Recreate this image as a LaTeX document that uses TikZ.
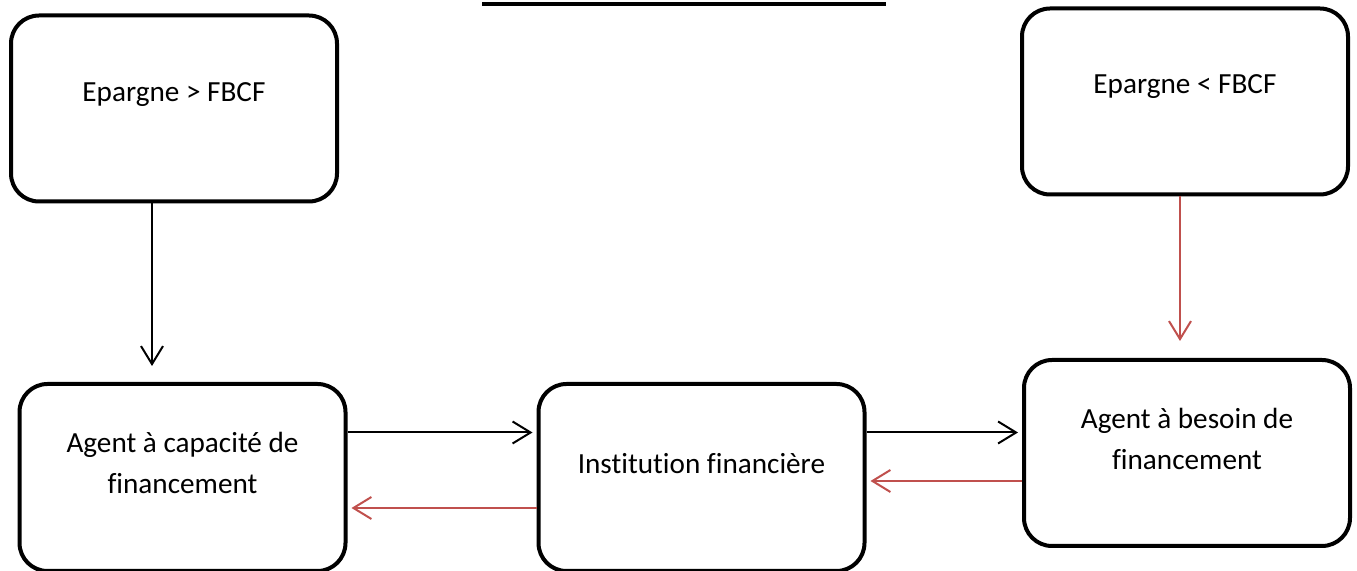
\documentclass[tikz,border=0pt]{standalone}
\usepackage{fontspec}
\setmainfont{Carlito}[Ligatures=NoCommon]
\usepackage{xcolor}
\usetikzlibrary{arrows.meta,positioning}
\definecolor{rouge}{HTML}{C0504D}
\tikzset{
  boite/.style={draw, line width=2pt, rounded corners=14pt, minimum width=163pt, minimum height=93pt, inner sep=0pt},
  texte/.style={align=center, font=\fontsize{14.6}{20.5}\selectfont, inner sep=0pt},
  fleche/.style={line width=1pt, -{Straight Barb[length=9pt,width=11pt,line width=1pt]}, shorten >=2pt},
  flecherouge/.style={fleche, draw=rouge},
}

\begin{document}
\begin{tikzpicture}[x=0.5pt,y=-0.5pt]
\useasboundingbox (0,0) rectangle (1357,571);
% trait du haut
\draw[line width=2pt] (482,4) -- (886,4);
% boites
\node[boite] (epSup) at (174,108.5) {};
\node[boite] (epInf) at (1185,101.5) {};
\node[boite, minimum height=93.5pt] (agCap) at (182.5,477.5) {};
\node[boite, minimum height=93.5pt] (inst) at (701.5,477.5) {};
\node[boite] (agBes) at (1187,453) {};
% textes
\node[texte, yshift=7pt] (tEpSup) at (epSup.center) {Epargne > FBCF};
\node[texte, yshift=7.5pt] (tEpInf) at (epInf.center) {Epargne < FBCF};
\node[texte, yshift=7.5pt] (tAgCap) at (agCap.center) {Agent à capacité de\\financement};
\node[texte, yshift=7pt] (tInst) at (inst.center) {Institution financière};
\node[texte, yshift=7pt] (tAgBes) at (agBes.center) {Agent à besoin de\\financement};
% points de depart
\coordinate (dSup) at ([xshift=-11pt]epSup.south);
\coordinate (dInf) at ([xshift=-2.5pt]epInf.south);
\coordinate (dCap) at ([yshift=22.5pt]agCap.east);
\coordinate (dInstG) at ([yshift=-15.25pt]inst.west);
\coordinate (dInstD) at ([yshift=22.5pt]inst.east);
\coordinate (dBes) at ([yshift=-14pt]agBes.west);
% fleches
\draw[fleche, shorten >=8pt] (dSup) -- (dSup |- agCap.north);
\draw[flecherouge, shorten >=8.5pt] (dInf) -- (dInf |- agBes.north);
\draw[fleche] (dCap) -- (dCap -| inst.west);
\draw[flecherouge] (dInstG) -- (dInstG -| agCap.east);
\draw[fleche] (dInstD) -- (dInstD -| agBes.west);
\draw[flecherouge] (dBes) -- (dBes -| inst.east);
\end{tikzpicture}
\end{document}
